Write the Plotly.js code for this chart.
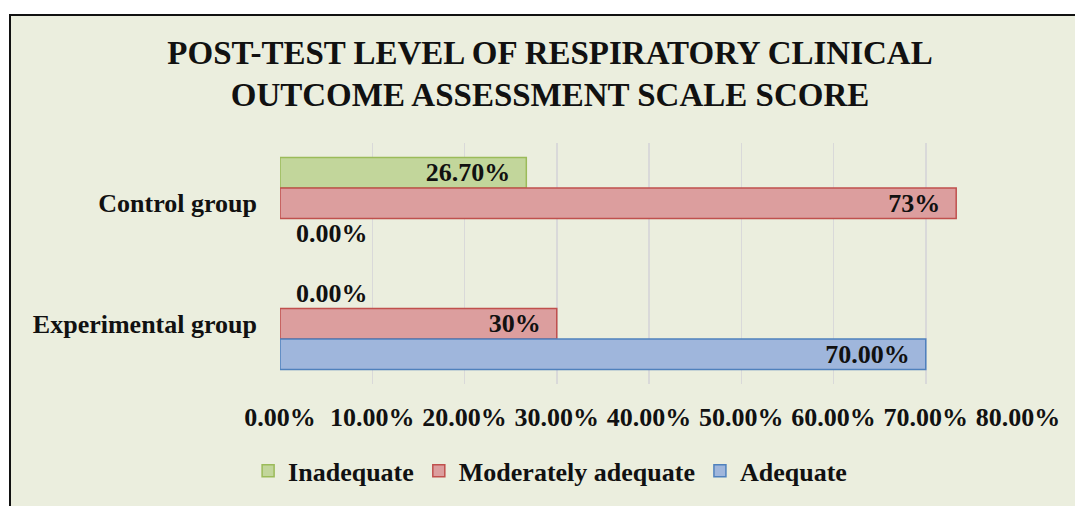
<!DOCTYPE html>
<html>
<head>
<meta charset="utf-8">
<script src="https://cdn.plot.ly/plotly-3.0.1.min.js"></script>
<style>
html,body{margin:0;padding:0;background:#ffffff;width:1075px;height:506px;overflow:hidden;}
#frame{position:absolute;left:9px;top:14px;width:1066px;height:492px;border-left:2px solid #111;border-top:2px solid #111;box-sizing:border-box;background:#EBEEDE;}
#chart{width:1064px;height:490px;}
</style>
</head>
<body>
<div id="frame"><div id="chart"></div></div>
<script>
const categories = ['Control group', 'Experimental group'];
const seriesNames = ['Inadequate', 'Moderately adequate', 'Adequate'];
const inadequate = [26.7, 0];
const moderately = [73.3, 30];
const adequate = [0, 70];
const inadequateText = ['26.70%', '0.00%'];
const moderatelyText = ['73%', '30%'];
const adequateText = ['0.00%', '70.00%'];
const xTicks = [0, 10, 20, 30, 40, 50, 60, 70, 80];

const FONT = 'Liberation Serif, Times New Roman, serif';
const fills = ['#C2D69B', '#DC9E9E', '#9FB6DC'];
const lines = ['#9BBB59', '#C0504D', '#4F81BD'];
const vals = [inadequate, moderately, adequate];
const texts = [inadequateText, moderatelyText, adequateText];

const traces = seriesNames.map((name, k) => {
  const v = vals[k];
  // put non-zero points first so the legend symbol keeps its outline
  const order = categories.map((c, i) => i).sort((a, b) => (v[a] === 0) - (v[b] === 0));
  const xs = order.map(i => v[i]);
  return {
    type: 'bar',
    orientation: 'h',
    name: name,
    y: order.map(i => categories[i]),
    x: xs,
    text: order.map(i => v[i] === 0 ? '\u00a0\u00a0' + texts[k][i] : texts[k][i] + '\u00a0\u00a0'),
    texttemplate: '%{text}',
    textposition: xs.map(x => x === 0 ? 'outside' : 'inside'),
    insidetextanchor: 'end',
    constraintext: 'none',
    textangle: 0,
    cliponaxis: false,
    insidetextfont: {family: FONT, size: 26, color: '#111', weight: 'bold'},
    outsidetextfont: {family: FONT, size: 26, color: '#111', weight: 'bold'},
    marker: {color: fills[k], line: {color: lines[k], width: xs.map(x => x === 0 ? 0 : 1.5)}},
    hoverinfo: 'skip'
  };
});

const layout = {
  width: 1064,
  height: 490,
  paper_bgcolor: '#EBEEDE',
  plot_bgcolor: '#EBEEDE',
  margin: {l: 269, r: 57, t: 127, b: 118},
  font: {family: FONT, size: 26, color: '#111', weight: 'bold'},
  title: {
    text: 'POST-TEST LEVEL OF RESPIRATORY CLINICAL<br>OUTCOME ASSESSMENT SCALE SCORE',
    font: {family: FONT, size: 33, color: '#111', weight: 'bold'},
    x: 0.5066, xanchor: 'center', xref: 'container',
    y: 0.903, yanchor: 'top', yref: 'container'
  },
  barmode: 'group',
  bargap: 0.24,
  bargroupgap: 0,
  showlegend: true,
  legend: {
    orientation: 'h',
    x: 0.366, xanchor: 'center',
    y: -0.36, yanchor: 'middle',
    font: {family: FONT, size: 26, color: '#111', weight: 'bold'},
    bgcolor: 'rgba(0,0,0,0)'
  },
  xaxis: {
    range: [0, 80],
    tickvals: xTicks,
    ticktext: xTicks.map(v => v.toFixed(2) + '%'),
    showgrid: true,
    gridcolor: '#D9D9D9',
    gridwidth: 1.5,
    zeroline: false,
    showline: false,
    ticks: '',
    ticklabelstandoff: 15,
    tickfont: {family: FONT, size: 26, color: '#111', weight: 'bold'},
    fixedrange: true
  },
  yaxis: {
    type: 'category',
    categoryorder: 'array',
    categoryarray: categories,
    range: [1.5, -0.5],
    showgrid: false,
    zeroline: false,
    showline: false,
    ticks: '',
    ticklabelstandoff: 22,
    tickfont: {family: FONT, size: 26, color: '#111', weight: 'bold'},
    fixedrange: true
  }
};

Plotly.newPlot('chart', traces, layout, {displayModeBar: false, staticPlot: true});
</script>
</body>
</html>
